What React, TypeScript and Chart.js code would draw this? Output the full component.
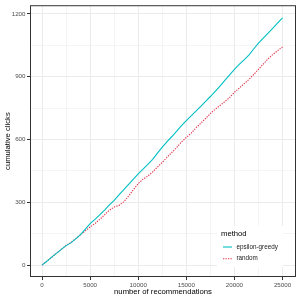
import React, { useEffect, useRef } from "react";
import { Chart, registerables } from "chart.js";

Chart.register(...registerables);

const recommendations = [
  0, 500, 1000, 1500, 2000, 2500, 3000, 3500, 4000, 4500, 5000, 5500, 6000, 6500, 7000, 7500,
  8000, 8500, 9000, 9500, 10000, 10500, 11000, 11500, 12000, 12500, 13000, 13500, 14000, 14500,
  15000, 15500, 16000, 16500, 17000, 17500, 18000, 18500, 19000, 19500, 20000, 20500, 21000,
  21500, 22000, 22500, 23000, 23500, 24000, 24500, 25000,
];

const epsilonGreedy = [
  0, 18, 38, 56, 75, 93, 106, 125, 145, 172, 198, 218, 240, 262, 287, 309, 335, 360, 385, 410,
  436, 458, 481, 505, 535, 563, 590, 614, 640, 666, 690, 713, 735, 758, 782, 805, 830, 855, 882,
  908, 935, 958, 980, 1003, 1032, 1060, 1084, 1108, 1132, 1157, 1181,
];

const randomClicks = [
  0, 19, 37, 57, 74, 94, 108, 126, 145, 163, 182, 198, 218, 240, 262, 277, 285, 302, 330, 360,
  389, 410, 425, 445, 468, 491, 515, 538, 562, 588, 610, 630, 655, 677, 700, 724, 744, 762, 781,
  800, 825, 845, 866, 886, 910, 935, 960, 985, 1006, 1024, 1042,
];

const seriesLabels = ["epsilon-greedy", "random"];
const seriesColors = ["#00BFC4", "#E0334A"];
const xMajor = [0, 5000, 10000, 15000, 20000, 25000];
const xMinor = [2500, 7500, 12500, 17500, 22500];
const yMajor = [0, 300, 600, 900, 1200];
const yMinor = [150, 450, 750, 1050];
const legendTitle = "method";
const xTitle = "number of recommendations";
const yTitle = "cumulative clicks";

const FONT = '"Liberation Sans", Arial, sans-serif';

export default function App() {
  const ref = useRef<HTMLCanvasElement>(null);

  useEffect(() => {
    document.body.style.margin = "0";
    const canvas = ref.current;
    if (!canvas) return;

    const overlay = {
      id: "ggOverlay",
      afterDatasetsDraw(chart: any) {
        const { ctx, chartArea } = chart;
        const { left, right, top, bottom } = chartArea;
        ctx.save();
        // panel border
        ctx.strokeStyle = "#333333";
        ctx.lineWidth = 1;
        ctx.strokeRect(left + 0.5, top + 0.5, right - left - 1, bottom - top - 1);

        // legend box inside panel
        const lx = 217, ly = 226, lw = 66, lh = 41;
        ctx.fillStyle = "#FFFFFF";
        ctx.fillRect(lx, ly, lw, lh);
        ctx.fillStyle = "#000000";
        ctx.font = `7.7px ${FONT}`;
        ctx.textAlign = "left";
        ctx.textBaseline = "middle";
        ctx.fillText(legendTitle, 221, 233.5);
        chart.data.datasets.forEach((ds: any, i: number) => {
          const y = 247 + i * 11.7;
          ctx.strokeStyle = ds.borderColor;
          ctx.lineWidth = 1.1;
          ctx.setLineDash(ds.borderDash || []);
          ctx.beginPath();
          ctx.moveTo(223, y);
          ctx.lineTo(232, y);
          ctx.stroke();
          ctx.setLineDash([]);
          ctx.fillStyle = "#1A1A1A";
          ctx.font = `6.3px ${FONT}`;
          ctx.fillText(ds.label, 236.5, y);
        });

        // axis titles
        ctx.fillStyle = "#000000";
        ctx.font = `7.7px ${FONT}`;
        ctx.textAlign = "center";
        ctx.textBaseline = "middle";
        ctx.fillText(xTitle, (left + right) / 2, 292);
        ctx.translate(8, (top + bottom) / 2);
        ctx.rotate(-Math.PI / 2);
        ctx.fillText(yTitle, 0, 0);
        ctx.restore();
      },
    };

    const isMajorX = (v: number) => xMajor.includes(v);
    const isMajorY = (v: number) => yMajor.includes(v);

    const chart = new Chart(canvas, {
      type: "line",
      data: {
        datasets: [
          {
            label: seriesLabels[0],
            data: recommendations.map((x, i) => ({ x, y: epsilonGreedy[i] })),
            borderColor: seriesColors[0],
            borderWidth: 1.1,
            pointRadius: 0,
            tension: 0,
          },
          {
            label: seriesLabels[1],
            data: recommendations.map((x, i) => ({ x, y: randomClicks[i] })),
            borderColor: seriesColors[1],
            borderWidth: 1.1,
            borderDash: [1.3, 1.2],
            pointRadius: 0,
            tension: 0,
          },
        ],
      },
      plugins: [overlay],
      options: {
        animation: false,
        responsive: false,
        devicePixelRatio: 1,
        layout: { padding: { top: 4, right: 4, left: 0, bottom: 0 } },
        plugins: { legend: { display: false }, tooltip: { enabled: false } },
        scales: {
          x: {
            type: "linear",
            min: -1250,
            max: 26400,
            afterBuildTicks: (scale: any) => {
              scale.ticks = [...xMajor, ...xMinor].sort((a, b) => a - b).map((v) => ({ value: v }));
            },
            afterFit: (scale: any) => {
              scale.height = 23;
            },
            border: { display: false },
            grid: {
              color: "#EBEBEB",
              lineWidth: (c: any) => (isMajorX(c.tick?.value) ? 1 : 0.5),
              tickColor: (c: any) => (isMajorX(c.tick?.value) ? "#333333" : "rgba(0,0,0,0)"),
              tickLength: 3,
              tickWidth: 1,
            },
            ticks: {
              autoSkip: false,
              maxRotation: 0,
              padding: 1.5,
              color: "#4D4D4D",
              font: { family: FONT, size: 6.2 },
              callback: (v: any) => (isMajorX(Number(v)) ? String(v) : ""),
            },
          },
          y: {
            type: "linear",
            min: -57,
            max: 1241,
            afterBuildTicks: (scale: any) => {
              scale.ticks = [...yMajor, ...yMinor].sort((a, b) => a - b).map((v) => ({ value: v }));
            },
            afterFit: (scale: any) => {
              scale.width = 30;
            },
            border: { display: false },
            grid: {
              color: "#EBEBEB",
              lineWidth: (c: any) => (isMajorY(c.tick?.value) ? 1 : 0.5),
              tickColor: (c: any) => (isMajorY(c.tick?.value) ? "#333333" : "rgba(0,0,0,0)"),
              tickLength: 3,
              tickWidth: 1,
            },
            ticks: {
              autoSkip: false,
              padding: 1.5,
              color: "#4D4D4D",
              font: { family: FONT, size: 6.2 },
              callback: (v: any) => (isMajorY(Number(v)) ? String(v) : ""),
            },
          },
        },
      },
    } as any);

    return () => chart.destroy();
  }, []);

  return <canvas ref={ref} width={300} height={300} style={{ display: "block" }} />;
}
